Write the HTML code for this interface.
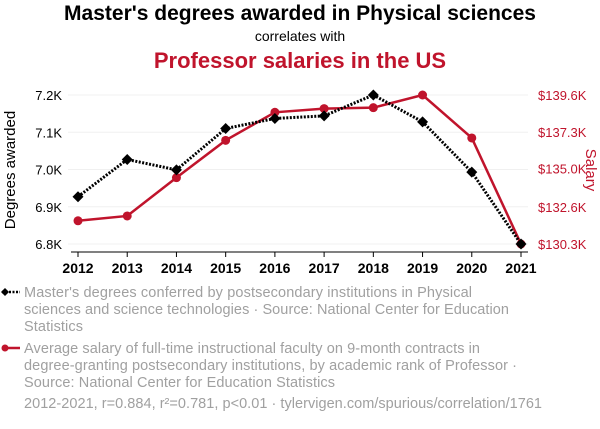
<!DOCTYPE html>
<html><head><meta charset="utf-8"><style>
body{margin:0;width:600px;height:424px;background:#fff;font-family:"Liberation Sans",sans-serif;overflow:hidden}
svg text{font-family:"Liberation Sans",sans-serif}
</style></head><body>
<svg id="chart" width="600" height="424">
<text x="300" y="20" text-anchor="middle" font-size="21" font-weight="bold" fill="#000">Master's degrees awarded in Physical sciences</text>
<text x="300" y="41" text-anchor="middle" font-size="14" fill="#000">correlates with</text>
<text x="300" y="68" text-anchor="middle" font-size="22" font-weight="bold" fill="#c0142c">Professor salaries in the US</text>
<g id="grid"></g><g id="axes"></g><g id="series"></g>
<text transform="translate(15,170) rotate(-90)" text-anchor="middle" font-size="15" fill="#000">Degrees awarded</text>
<text transform="translate(586,170) rotate(90)" text-anchor="middle" font-size="15" fill="#c0142c">Salary</text>
<g>
<line x1="2" y1="292" x2="20" y2="292" stroke="#000" stroke-width="2.5" stroke-dasharray="2,1.5"/>
<path d="M5 288 L9 292 L5 296 L1 292Z" fill="#000"/>
<text font-size="14.5" fill="#a0a0a0"><tspan x="24" y="297" textLength="448">Master's degrees conferred by postsecondary institutions in Physical</tspan><tspan x="24" y="314" textLength="485">sciences and science technologies · Source: National Center for Education</tspan><tspan x="24" y="331" textLength="59">Statistics</tspan></text></g>
<g>
<line x1="2" y1="348" x2="20" y2="348" stroke="#c0142c" stroke-width="2.5"/>
<circle cx="5" cy="348" r="3.5" fill="#c0142c"/>
<text font-size="14.5" fill="#a0a0a0"><tspan x="24" y="353" textLength="456">Average salary of full-time instructional faculty on 9-month contracts in</tspan><tspan x="24" y="370" textLength="493">degree-granting postsecondary institutions, by academic rank of Professor ·</tspan><tspan x="24" y="387" textLength="311">Source: National Center for Education Statistics</tspan></text></g>
<text x="24" y="408" font-size="14.5" fill="#a0a0a0" textLength="518">2012-2021, r=0.884, r²=0.781, p&lt;0.01 · tylervigen.com/spurious/correlation/1761</text>
</svg>
<script>
const years=[2012,2013,2014,2015,2016,2017,2018,2019,2020,2021];
const degrees=[6927,7027,6999,7110,7137,7144,7200,7128,6993,6800];
const salary=[131.75,132.05,134.44,136.77,138.52,138.75,138.81,139.6,136.92,130.3];
const leftTicks=[6800,6900,7000,7100,7200];
const leftTickLabels=["6.8K","6.9K","7.0K","7.1K","7.2K"];
const rightTicks=[130.3,132.6,135.0,137.3,139.6];
const rightTickLabels=["$130.3K","$132.6K","$135.0K","$137.3K","$139.6K"];
const NS="http://www.w3.org/2000/svg";
const X0=78,X1=521,Y0=244,Y1=95;
const xs=y=>X0+(y-years[0])/(years[years.length-1]-years[0])*(X1-X0);
const yl=v=>Y0-(v-6800)/(7200-6800)*(Y0-Y1);
const yr=v=>Y0-(v-130.3)/(139.6-130.3)*(Y0-Y1);
function mk(t,a,p){const e=document.createElementNS(NS,t);for(const k in a)e.setAttribute(k,a[k]);p.appendChild(e);return e;}
const grid=document.getElementById('grid'),axes=document.getElementById('axes'),ser=document.getElementById('series');
leftTicks.forEach((v,i)=>{
 const g=mk('line',{x1:68,x2:528,y1:yl(v),y2:yl(v),stroke:'#f0f0f0','stroke-width':1},grid);
 
 
 const t=mk('text',{x:62,y:yl(v)+5,'text-anchor':'end','font-size':13,fill:'#000'},axes);t.textContent=leftTickLabels[i];
 
 
});
rightTicks.forEach((v,i)=>{
 const t=mk('text',{x:538,y:yr(v)+5,'font-size':13,fill:'#c0142c'},axes);t.textContent=rightTickLabels[i];
 
 
});
const ax=mk('line',{x1:71,x2:528,y1:252,y2:252,stroke:'#000','stroke-width':1},axes);


years.forEach(y=>{
 mk('line',{x1:xs(y),x2:xs(y),y1:252,y2:257,stroke:'#000'},axes);
 const t=mk('text',{x:xs(y),y:273,'text-anchor':'middle','font-size':14,'font-weight':'bold',fill:'#000'},axes);t.textContent=y;
 
 
});
const sp=mk('polyline',{points:years.map((y,i)=>xs(y)+','+yr(salary[i])).join(' '),fill:'none',stroke:'#c0142c','stroke-width':2.5},ser);


years.forEach((y,i)=>{const c=mk('circle',{cx:xs(y),cy:yr(salary[i]),r:4.5,fill:'#c0142c'},ser);
 
 });
const dp=mk('polyline',{points:years.map((y,i)=>xs(y)+','+yl(degrees[i])).join(' '),fill:'none',stroke:'#000','stroke-width':3,'stroke-dasharray':'2,1.5'},ser);


years.forEach((y,i)=>{const x=xs(y),yy=yl(degrees[i]);
 const p=mk('path',{d:`M${x} ${yy-5.5}L${x+5.5} ${yy}L${x} ${yy+5.5}L${x-5.5} ${yy}Z`,fill:'#000'},ser);
 
 });
</script>
</body></html>
